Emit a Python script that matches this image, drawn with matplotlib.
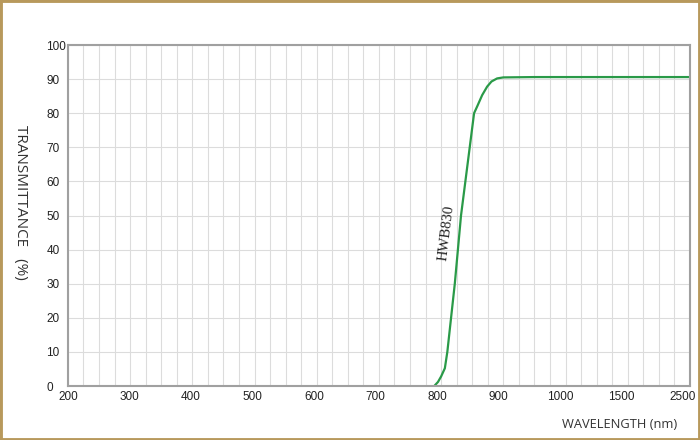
import numpy as np
import matplotlib
matplotlib.use("Agg")
import matplotlib.pyplot as plt
from matplotlib.patches import Rectangle
from matplotlib.transforms import ScaledTranslation

# ---- data ----
wavelength = [789, 795, 800, 806, 810, 816, 822, 827, 832, 839, 846, 853, 858, 866, 874,
              881, 890, 900, 950, 1000, 1500, 2500]
transmittance = [0, 1.2, 2.8, 5.2, 10, 20, 30, 40, 50, 60, 70, 80, 82, 85.3, 87.8,
                 89.3, 90.2, 90.5, 90.6, 90.6, 90.6, 90.6]
x_ticks = [200, 300, 400, 500, 600, 700, 800, 900, 1000, 1500, 2500]
y_ticks = [0, 10, 20, 30, 40, 50, 60, 70, 80, 90, 100]
series_label = "HWB830"

# piecewise-linear axis: 200..1000 evenly, then 1000-1500 and 1500-2500 one step each
knots_x = [200, 1000, 1500, 2500]
knots_p = [0, 8, 9, 10]


def fwd(x):
    return np.interp(x, knots_x, knots_p)


def inv(p):
    return np.interp(p, knots_p, knots_x)


fig = plt.figure(figsize=(7, 4.4), dpi=100)
fig.patches.append(Rectangle((0, 0), 1, 1, transform=fig.transFigure, fill=False,
                             edgecolor="#b8995c", linewidth=3.5, zorder=10))
ax = fig.add_axes([0.097, 0.1227, 0.8886, 0.775])
ax.set_xscale("function", functions=(fwd, inv))
ax.set_xlim(200, 2500)
ax.set_ylim(0, 100)

ax.set_xticks(x_ticks)
ax.set_xticklabels([str(t) for t in x_ticks])
minor = list(np.arange(200, 1000, 25)) + list(np.arange(1000, 1500, 125)) + list(np.arange(1500, 2500, 250))
ax.set_xticks(minor, minor=True)
ax.set_yticks(y_ticks)
ax.grid(True, which="both", axis="x", color="#dcdcdc", linewidth=0.8)
ax.grid(True, which="major", axis="y", color="#dcdcdc", linewidth=0.8)
ax.tick_params(which="both", length=0)
ax.tick_params(axis="x", pad=3.5, labelsize=8.5, labelcolor="#222222")
ax.tick_params(axis="y", pad=15.5, labelsize=8.5, labelcolor="#222222")
for lab in ax.get_yticklabels():
    lab.set_fontfamily("Liberation Sans")
    lab.set_horizontalalignment("left")
for i, lab in enumerate(ax.get_xticklabels()):
    lab.set_fontfamily("Liberation Sans")
    lab.set_transform(lab.get_transform() + ScaledTranslation(-0.007 * i, 0, fig.dpi_scale_trans))
for s in ax.spines.values():
    s.set_color("#a0a0a0")
    s.set_linewidth(1.5)

ax.plot(wavelength, transmittance, color="#2a9a48", linewidth=1.6)

ax.text(808, 45, series_label, rotation=83, family="Liberation Serif", fontsize=10.5,
        ha="center", va="center", color="#222222")

fig.text(0.967, 0.036, "WAVELENGTH (nm)", ha="right", va="center", family="Open Sans",
         fontsize=9.3, color="#333333")
fig.text(0.029, 0.541, "TRANSMITTANCE   (%)", rotation=270, ha="center", va="center",
         family="Open Sans", fontsize=11, color="#333333")

fig.savefig("out.png", dpi=100)
